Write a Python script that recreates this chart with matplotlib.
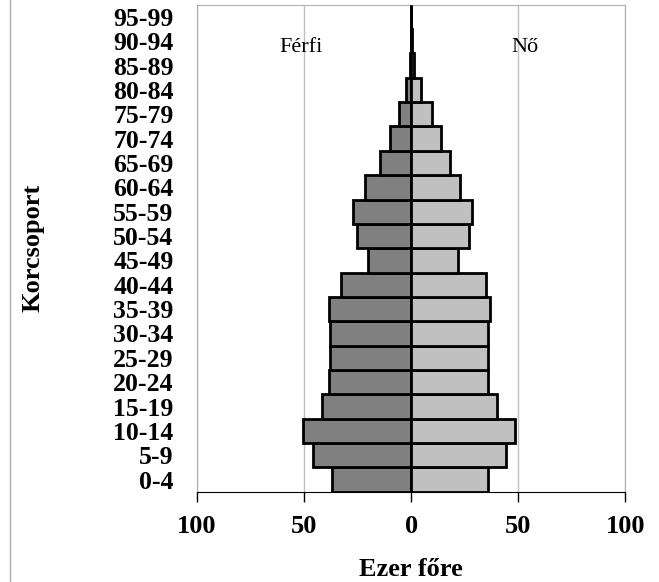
import matplotlib.pyplot as plt
from matplotlib.lines import Line2D

# Korcsoportok és értékek (ezer fő)
age_groups = ['0-4', '5-9', '10-14', '15-19', '20-24', '25-29', '30-34', '35-39',
              '40-44', '45-49', '50-54', '55-59', '60-64', '65-69', '70-74',
              '75-79', '80-84', '85-89', '90-94', '95-99']
male = [37.2, 46.0, 50.7, 41.7, 38.3, 38.0, 38.0, 38.3, 33.0, 20.1, 25.2, 27.1,
        21.7, 14.6, 9.8, 5.7, 2.4, 0.8, 0.3, 0.1]
female = [35.9, 44.1, 48.4, 40.2, 35.8, 35.8, 35.7, 36.6, 35.0, 21.9, 27.1, 28.5,
          22.6, 18.2, 13.7, 9.5, 4.8, 1.5, 0.3, 0.1]
xticks = [-100, -50, 0, 50, 100]
xticklabels = ['100', '50', '0', '50', '100']

plt.rcParams['font.family'] = ['Liberation Serif', 'DejaVu Serif']

fig = plt.figure(figsize=(6.59, 5.82), dpi=100)
ax = fig.add_axes([0.299, 0.155, 0.650, 0.837])

ypos = list(range(len(age_groups)))
ax.barh(ypos, [-v for v in male], height=1.0, color='#808080',
        edgecolor='black', linewidth=2, zorder=3)
ax.barh(ypos, female, height=1.0, color='#c0c0c0',
        edgecolor='black', linewidth=2, zorder=3)

ax.set_xlim(-100, 100)
ax.set_ylim(-0.5, len(age_groups) - 0.5)
ax.set_xticks(xticks)
ax.set_xticklabels(xticklabels, fontsize=19, fontweight='bold')
ax.set_yticks(ypos)
ax.set_yticklabels(age_groups, fontsize=18.5, fontweight='bold')
ax.tick_params(axis='y', length=0, pad=17)
ax.tick_params(axis='x', length=7, width=1, direction='out', pad=10)

ax.xaxis.grid(True, color='#c0c0c0', linewidth=1, zorder=0)
ax.set_axisbelow(True)
for side in ['left', 'top', 'right']:
    ax.spines[side].set_color('#b0b0b0')
ax.spines['bottom'].set_color('black')

ax.set_xlabel('Ezer főre', fontsize=19, fontweight='bold', labelpad=14)
ax.set_ylabel('Korcsoport', fontsize=19, fontweight='bold')
ax.yaxis.set_label_coords(-0.357, 0.5)

ax.text(-51.5, 17.55, 'Férfi', fontsize=16, ha='center', va='baseline')
ax.text(53.3, 17.55, 'Nő', fontsize=16, ha='center', va='baseline')

# bal oldali keret
fig.add_artist(Line2D([9.5 / 659, 9.5 / 659], [0, 1], color='#b0b0b0', linewidth=1))

fig.savefig('out.png', dpi=100)
